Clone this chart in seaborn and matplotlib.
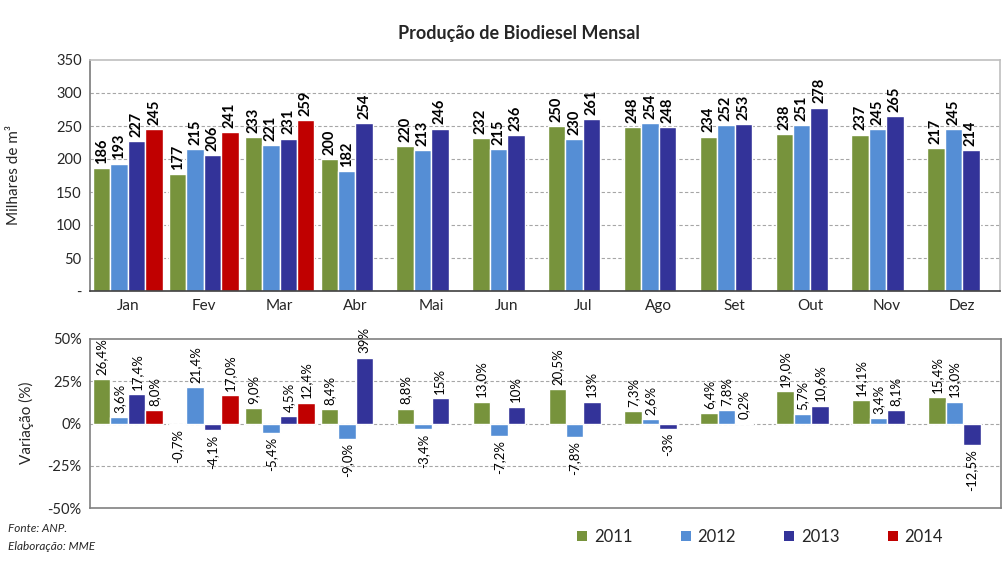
import numpy as np
import pandas as pd
import matplotlib
matplotlib.use("Agg")
import matplotlib.pyplot as plt
from matplotlib.patches import Patch
import seaborn as sns

# Dados
meses = ["Jan", "Fev", "Mar", "Abr", "Mai", "Jun", "Jul", "Ago", "Set", "Out", "Nov", "Dez"]
anos = ["2011", "2012", "2013", "2014"]

prod_2011 = [186, 177, 233, 200, 220, 232, 250, 248, 234, 238, 237, 217]
prod_2012 = [193, 215, 221, 182, 213, 215, 230, 254, 252, 251, 245, 245]
prod_2013 = [227, 206, 231, 254, 246, 236, 261, 248, 253, 278, 265, 214]
prod_2014 = [245, 241, 259] + [np.nan] * 9

var_2011 = [26.4, -0.7, 9.0, 8.4, 8.8, 13.0, 20.5, 7.3, 6.4, 19.0, 14.1, 15.4]
var_2012 = [3.6, 21.4, -5.4, -9.0, -3.4, -7.2, -7.8, 2.6, 7.8, 5.7, 3.4, 13.0]
var_2013 = [17.4, -4.1, 4.5, 39, 15, 10, 13, -3, 0.2, 10.6, 8.1, -12.5]
var_2014 = [8.0, 17.0, 12.4] + [np.nan] * 9

rot_var_2011 = ["26,4%", "-0,7%", "9,0%", "8,4%", "8,8%", "13,0%", "20,5%", "7,3%", "6,4%", "19,0%", "14,1%", "15,4%"]
rot_var_2012 = ["3,6%", "21,4%", "-5,4%", "-9,0%", "-3,4%", "-7,2%", "-7,8%", "2,6%", "7,8%", "5,7%", "3,4%", "13,0%"]
rot_var_2013 = ["17,4%", "-4,1%", "4,5%", "39%", "15%", "10%", "13%", "-3%", "0,2%", "10,6%", "8,1%", "-12,5%"]
rot_var_2014 = ["8,0%", "17,0%", "12,4%"]

cores = {"2011": "#77933C", "2012": "#558ED5", "2013": "#333399", "2014": "#C00000"}


def long_form(series):
    rows = []
    for ano, vals in zip(anos, series):
        for mes, v in zip(meses, vals):
            if not np.isnan(v):
                rows.append({"mes": mes, "ano": ano, "valor": v})
    return pd.DataFrame(rows)


df_prod = long_form([prod_2011, prod_2012, prod_2013, prod_2014])
df_var = long_form([var_2011, var_2012, var_2013, var_2014])

sns.set_theme(style="white")
plt.rcParams["font.family"] = ["Lato", "DejaVu Sans"]

W, H = 1004, 565
fig = plt.figure(figsize=(W / 100, H / 100), dpi=100)
ax1 = fig.add_axes([90 / W, 1 - 291 / H, 910 / W, 231 / H])
ax2 = fig.add_axes([90 / W, 1 - 508 / H, 911 / W, 169 / H])

# --- producao mensal ---
sns.barplot(data=df_prod, x="mes", y="valor", hue="ano", hue_order=anos,
            order=meses, palette=cores, width=0.92, errorbar=None,
            saturation=1, legend=False, ax=ax1)
for cont, ano in zip(ax1.containers, anos):
    vals = df_prod.loc[df_prod["ano"] == ano, "valor"]
    ax1.bar_label(cont, labels=[f"{v:.0f}" for v in vals], rotation=90,
                  padding=3, fontsize=10.5, fontweight="bold", color="black")

ax1.set_ylim(0, 350)
ax1.set_yticks(range(0, 351, 50))
ax1.set_yticklabels(["-"] + [str(v) for v in range(50, 351, 50)], fontsize=10.5)
ax1.set_xlim(-0.5, 11.5)
ax1.set_xlabel("")
ax1.set_ylabel("")
ax1.tick_params(axis="x", which="major", length=0, labelsize=11, pad=6)
ax1.set_xticks(np.arange(-0.5, 12, 1), minor=True)
ax1.tick_params(axis="x", which="minor", length=5, width=1, color="#404040", direction="out")
ax1.tick_params(axis="y", length=0, pad=6)
for y in range(50, 301, 50):
    ax1.axhline(y, color="#a6a6a6", lw=0.8, ls=(0, (3, 2)), zorder=0)
for s in ["top", "right"]:
    ax1.spines[s].set_color("#bfbfbf")
    ax1.spines[s].set_linewidth(1.2)
ax1.spines["left"].set_color("#808080")
ax1.spines["bottom"].set_color("#404040")
ax1.spines["bottom"].set_linewidth(1.2)

# --- variacao ---
sns.barplot(data=df_var, x="mes", y="valor", hue="ano", hue_order=anos,
            order=meses, palette=cores, width=0.92, errorbar=None,
            saturation=1, legend=False, ax=ax2)
rotulos = [rot_var_2011, rot_var_2012, rot_var_2013, rot_var_2014]
for cont, labs in zip(ax2.containers, rotulos):
    ax2.bar_label(cont, labels=labs, rotation=90, padding=3, fontsize=9.5,
                  color="black")

ax2.set_ylim(-50, 50)
ax2.set_yticks([-50, -25, 0, 25, 50])
ax2.set_yticklabels(["-50%", "-25%", "0%", "25%", "50%"], fontsize=10.5)
ax2.set_xlim(-0.5, 11.5)
ax2.set_xticks([])
ax2.set_xlabel("")
ax2.set_ylabel("")
ax2.tick_params(axis="y", length=0, pad=6)
for y in [-25, 0, 25]:
    ax2.axhline(y, color="#a6a6a6", lw=0.8, ls=(0, (3, 2)), zorder=0)
for s in ax2.spines.values():
    s.set_color("#808080")
    s.set_linewidth(1.2)

# --- textos ---
fig.text(519 / W, 1 - 33 / H, "Produção de Biodiesel Mensal", ha="center",
         va="center", fontsize=13, fontweight="bold")
fig.text(14 / W, 1 - 175 / H, "Milhares de m³", rotation=90, ha="center",
         va="center", fontsize=11)
fig.text(26 / W, 1 - 423 / H, "Variação (%)", rotation=90, ha="center",
         va="center", fontsize=11)
fig.text(8 / W, 1 - 529 / H, "Fonte: ANP.", fontsize=8.5, style="italic", va="center")
fig.text(8 / W, 1 - 546 / H, "Elaboração: MME", fontsize=8.5, style="italic", va="center")

handles = [Patch(facecolor=cores[a], edgecolor="none", label=a) for a in anos]
fig.legend(handles=handles, loc="center", ncol=4, frameon=False,
           bbox_to_anchor=(760 / W, 1 - 537 / H), fontsize=12,
           handlelength=0.6, handleheight=0.6, handletextpad=0.4,
           columnspacing=2.9)

fig.savefig("out.png", dpi=100)
